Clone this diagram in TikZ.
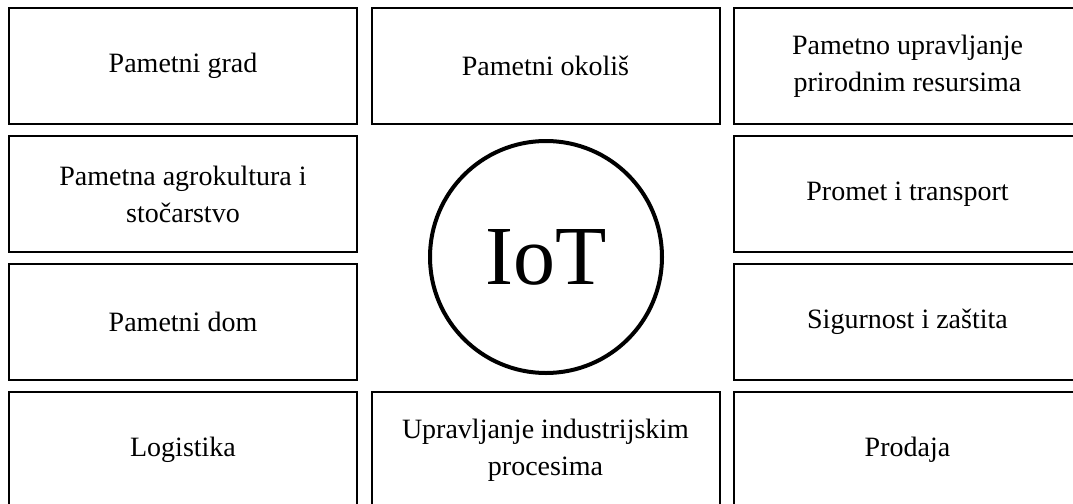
\documentclass[tikz,border=0pt]{standalone}
\usepackage{fontspec}
\setmainfont{Liberation Serif}
\usepackage{xcolor}
\usepackage{tikz}
\definecolor{line}{HTML}{000000}
\tikzset{
  areaBox/.style={draw=line, line width=1pt, minimum width=174pt, minimum height=58pt,
    inner sep=0pt, align=center, font=\fontsize{14}{18.5}\selectfont},
  hub/.style={circle, draw=line, line width=2pt, minimum size=116pt, inner sep=0pt,
    font=\fontsize{42}{46}\selectfont}
}

\begin{document}
\begin{tikzpicture}[x=0.5pt,y=-0.5pt]
\useasboundingbox (0,0) rectangle (1073,504);
\clip (0,0) rectangle (1073,504);
% left column
\node[areaBox] (grad) at (183,66) {Pametni grad};
\node[areaBox] (agro) at (183,194) {Pametna agrokultura i\\stočarstvo};
\node[areaBox] (dom) at (183,321.5) {Pametni dom};
\node[areaBox] (logistika) at (183,450) {Logistika};

% middle column
\node[areaBox] (okolis) at (545.5,66) {Pametni okoliš};
\node[areaBox] (industrija) at (545.5,450) {Upravljanje industrijskim\\procesima};
\node[hub] (iot) at (546,257) {IoT};

% right column
\node[areaBox] (resursi) at (907.5,66) {Pametno upravljanje\\prirodnim resursima};
\node[areaBox] (promet) at (907.5,194) {Promet i transport};
\node[areaBox] (sigurnost) at (907.5,321.5) {Sigurnost i zaštita};
\node[areaBox] (prodaja) at (907.5,450) {Prodaja};
\end{tikzpicture}
\end{document}
